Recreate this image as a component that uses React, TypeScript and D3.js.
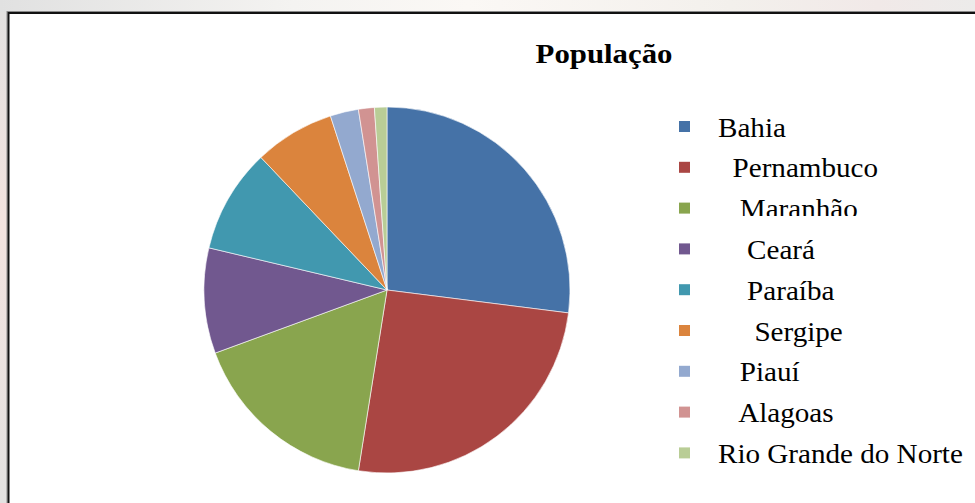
import React, { useEffect, useRef } from "react";
import * as d3 from "d3";

// estados e fatia da população (%)
const states = [
  "Bahia",
  "Pernambuco",
  "Maranhão",
  "Ceará",
  "Paraíba",
  "Sergipe",
  "Piauí",
  "Alagoas",
  "Rio Grande do Norte"
];
const population = [27.0, 25.5, 16.9, 9.3, 9.2, 7.1, 2.5, 1.4, 1.1];
// the legend labels carry leading spaces like the original sheet
const legendLabels = [
  "Bahia",
  "  Pernambuco",
  "   Maranhão",
  "    Ceará",
  "    Paraíba",
  "     Sergipe",
  "   Piauí",
  "   Alagoas",
  "Rio Grande do Norte"
];
const sliceColors = [
  "#4572A7",
  "#AA4643",
  "#89A54E",
  "#71588F",
  "#4198AF",
  "#DB843D",
  "#93A9CF",
  "#D19392",
  "#B9CD96"
];
const title = "População";

const W = 975;
const H = 503;

export default function App() {
  const ref = useRef<SVGSVGElement | null>(null);

  useEffect(() => {
    const svg = d3.select(ref.current);
    svg.selectAll("*").remove();

    const defs = svg.append("defs");
    const bgV = defs.append("linearGradient")
      .attr("id", "bgV").attr("x1", 0).attr("y1", 0).attr("x2", 0).attr("y2", 1);
    bgV.append("stop").attr("offset", "0%").attr("stop-color", "#e2e1e0");
    bgV.append("stop").attr("offset", "45%").attr("stop-color", "#f3e3df");
    bgV.append("stop").attr("offset", "100%").attr("stop-color", "#e3e2e1");
    const bgH = defs.append("linearGradient")
      .attr("id", "bgH").attr("x1", 0).attr("y1", 0).attr("x2", 1).attr("y2", 0);
    bgH.append("stop").attr("offset", "0%").attr("stop-color", "#e1e1e1");
    bgH.append("stop").attr("offset", "30%").attr("stop-color", "#f4f3f1");
    bgH.append("stop").attr("offset", "48%").attr("stop-color", "#fbf8f5");
    bgH.append("stop").attr("offset", "75%").attr("stop-color", "#f3f0ec");
    bgH.append("stop").attr("offset", "90%").attr("stop-color", "#f1e9e8");
    bgH.append("stop").attr("offset", "100%").attr("stop-color", "#ecebea");

    // slide background
    svg.append("rect").attr("width", W).attr("height", H).attr("fill", "url(#bgV)");
    svg.append("rect").attr("width", W).attr("height", 12).attr("fill", "url(#bgH)");

    // chart area with frame (runs off right and bottom)
    svg.append("rect")
      .attr("x", 7).attr("y", 11.5)
      .attr("width", W + 20).attr("height", H + 20)
      .attr("fill", "none").attr("stroke", "#8a8a8a").attr("stroke-width", 1);
    svg.append("rect")
      .attr("x", 8.5).attr("y", 13)
      .attr("width", W + 20).attr("height", H + 20)
      .attr("fill", "#ffffff").attr("stroke", "#111").attr("stroke-width", 2);

    // title
    svg.append("text")
      .attr("transform", "translate(604,63) scale(1.1,1)")
      .attr("text-anchor", "middle")
      .style("font-family", "'Liberation Serif', 'Times New Roman', serif")
      .style("font-size", "28px")
      .style("font-weight", "bold")
      .attr("fill", "#000")
      .text(title);

    // pie
    const cx = 387;
    const cy = 290;
    const r = 183;
    const pie = d3.pie<number>().sort(null).value(d => d);
    const arc = d3.arc<d3.PieArcDatum<number>>().innerRadius(0).outerRadius(r);
    const color = d3.scaleOrdinal<string, string>().domain(states).range(sliceColors);

    svg.append("g")
      .attr("transform", `translate(${cx},${cy})`)
      .selectAll("path")
      .data(pie(population))
      .enter()
      .append("path")
      .attr("d", arc)
      .attr("fill", (d, i) => color(states[i]))
      .attr("stroke", "#ffffff")
      .attr("stroke-width", 0.6)
      .attr("stroke-linejoin", "round");

    // legend
    const yRow = d3.scaleLinear().domain([0, states.length - 1]).range([126.5, 126.5 + 40.8 * 8]);
    const legend = svg.append("g");
    const rows = legend.selectAll("g")
      .data(states)
      .enter()
      .append("g");

    rows.append("rect")
      .attr("x", 679)
      .attr("y", (d, i) => yRow(i) - 5.5)
      .attr("width", 11)
      .attr("height", 11)
      .attr("fill", d => color(d));

    // Maranhão label is cut off at the bottom in the original (clip in text's own coords)
    defs.append("clipPath").attr("id", "cutLabel")
      .append("rect")
      .attr("x", -5).attr("y", -30)
      .attr("width", 260).attr("height", 28);

    rows.append("text")
      .attr("transform", (d, i) => `translate(718,${yRow(i) + 10}) scale(1.04,1)`)
      .attr("clip-path", (d, i) => (i === 2 ? "url(#cutLabel)" : null))
      .style("font-family", "'Liberation Serif', 'Times New Roman', serif")
      .style("font-size", "28px")
      .style("white-space", "pre")
      .attr("fill", "#000")
      .text((d, i) => legendLabels[i]);
  }, []);

  return (
    <svg
      ref={ref}
      width={W}
      height={H}
      style={{ position: "absolute", left: 0, top: 0, display: "block" }}
    />
  );
}
